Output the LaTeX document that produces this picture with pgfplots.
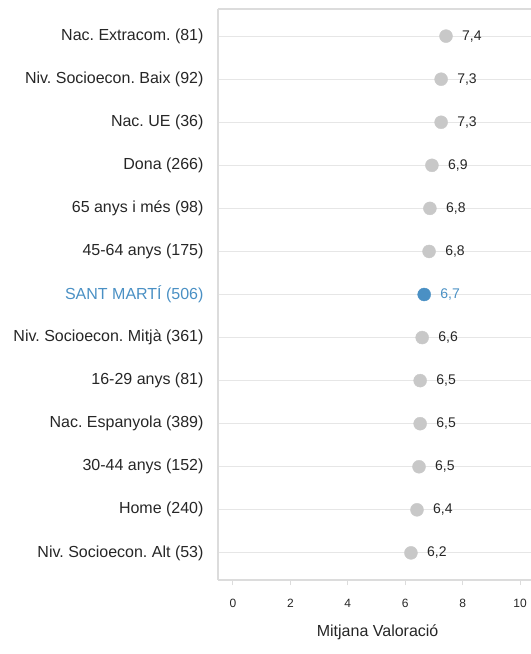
\documentclass[border=0pt]{standalone}
\usepackage{pgfplots}
\pgfplotsset{compat=1.18}
\usepackage{fontspec}
\setmainfont{Liberation Sans}
\frenchspacing
\definecolor{dotgray}{HTML}{C8C8C8}
\definecolor{gridgray}{HTML}{E6E6E6}
\definecolor{framegray}{HTML}{DCDCDC}
\definecolor{hiblue}{HTML}{4A90C4}
\definecolor{txt}{HTML}{262626}
\begin{document}
\begin{tikzpicture}
\begin{axis}[
    scale only axis, width=313bp, height=571bp,
    xmin=-0.52, xmax=10.38, ymin=-0.63, ymax=12.63, y dir=reverse,
    axis x line*=bottom, axis y line*=left,
    every outer x axis line/.append style={-},
    every outer y axis line/.append style={-},
    axis line style={framegray, line width=1.3bp},
    xtick={0,2,...,10}, ytick={0,...,12},
    yticklabels={Nac. Extracom. (81), Niv. Socioecon. Baix (92), Nac. UE (36),
        Dona (266), 65 anys i més (98), 45-64 anys (175),
        \textcolor{hiblue}{SANT MARTÍ (506)}, Niv. Socioecon. Mitjà (361),
        16-29 anys (81), Nac. Espanyola (389), 30-44 anys (152),
        Home (240), Niv. Socioecon. Alt (53)},
    ymajorgrids, grid style={gridgray, line width=1.2bp},
    tick align=outside, major tick length=5bp,
    xtick style={framegray, line width=1bp}, ytick style={draw=none},
    xticklabel style={font=\fontsize{12bp}{14bp}\selectfont, text=txt, yshift=-11bp},
    yticklabel style={font=\fontsize{16bp}{19bp}\selectfont, text=txt, xshift=-6bp},
    xlabel={Mitjana Valoració},
    xlabel style={at={(axis description cs:0.51,0)}, anchor=center, yshift=-52bp,
        font=\fontsize{16bp}{19bp}\selectfont, text=txt},
    /pgf/number format/assume math mode=true,
    point meta=explicit symbolic,
    nodes near coords,
    nodes near coords align=horizontal,
    every node near coord/.append style={anchor=west, inner sep=0pt, xshift=16bp,
        font=\fontsize{14bp}{16bp}\selectfont},
    clip=false,
]
\addplot[dotgray, only marks, mark=*, mark size=6.5bp, mark options={draw=dotgray, fill=dotgray},
    every node near coord/.append style={text=txt}] coordinates {
    (7.42,0) [7,4]
    (7.25,1) [7,3]
    (7.25,2) [7,3]
    (6.93,3) [6,9]
    (6.86,4) [6,8]
    (6.83,5) [6,8]
    (6.59,7) [6,6]
    (6.52,8) [6,5]
    (6.52,9) [6,5]
    (6.48,10) [6,5]
    (6.41,11) [6,4]
    (6.20,12) [6,2]
};
\addplot[hiblue, only marks, mark=*, mark size=6.5bp, mark options={draw=hiblue, fill=hiblue},
    every node near coord/.append style={text=hiblue}] coordinates {
    (6.66,6) [6,7]
};
\draw[framegray, line width=1.3bp] (axis description cs:0,1) -- (axis description cs:1,1);
\end{axis}
\pgfresetboundingbox
\path (-218bp,-74bp) rectangle (313bp,580bp);
\end{tikzpicture}
\end{document}
